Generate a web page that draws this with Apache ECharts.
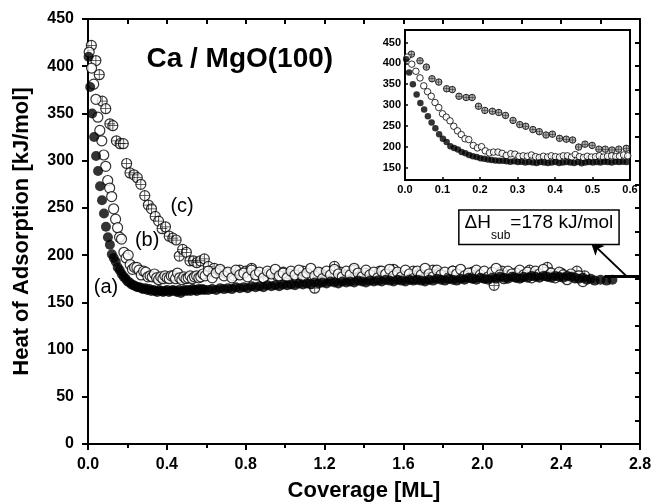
<!DOCTYPE html>
<html><head><meta charset="utf-8">
<script src="https://cdn.jsdelivr.net/npm/echarts@6/dist/echarts.min.js"></script>
<style>html,body{margin:0;padding:0;background:#fff}#c{width:653px;height:504px}</style>
</head><body><div id="c"></div>
<script>
// ---- data: [coverage ML, heat of adsorption kJ/mol] ----
const seriesA = [ // (a) filled circles
[0.003,410],[0.011,378],[0.021,350],[0.031,325],[0.041,305],[0.051,289],[0.061,273],[0.071,258],[0.081,244],[0.091,230],
[0.101,219],[0.111,211],[0.121,201],[0.131,197],[0.141,193],[0.151,187],[0.161,184],[0.171,180],[0.181,177],[0.191,175],
[0.201,172],[0.211,171],[0.221,169],[0.231,168],[0.241,167],[0.251,166],[0.261,166],[0.271,165],[0.281,164],[0.291,165],
[0.301,163],[0.311,164],[0.321,162],[0.331,163],[0.341,162],[0.351,161],[0.361,163],[0.371,162],[0.381,161],[0.391,162],
[0.401,163],[0.411,161],[0.421,162],[0.431,163],[0.441,162],[0.451,161],[0.461,163],[0.471,160],[0.481,162],[0.491,163],
[0.501,162],[0.511,163],[0.521,162],[0.531,164],[0.541,163],[0.551,162],[0.561,164],[0.571,163],[0.581,164],[0.591,163],
[0.61,163],[0.63,164],[0.65,163],[0.67,165],[0.69,164],[0.71,165],[0.73,164],[0.75,166],[0.77,165],[0.79,166],
[0.81,165],[0.83,167],[0.85,166],[0.87,167],[0.89,166],[0.91,168],[0.93,167],[0.95,168],[0.97,167],[0.99,169],
[1.01,168],[1.03,169],[1.05,168],[1.07,170],[1.09,169],[1.11,170],[1.13,169],[1.15,171],[1.17,170],[1.19,171],
[1.21,170],[1.23,172],[1.25,171],[1.27,170],[1.29,172],[1.31,171],[1.33,172],[1.35,171],[1.37,173],[1.39,172],
[1.41,171],[1.43,173],[1.45,172],[1.47,173],[1.49,172],[1.51,174],[1.53,173],[1.55,172],[1.57,174],[1.59,173],
[1.61,172],[1.63,174],[1.65,173],[1.67,174],[1.69,173],[1.71,172],[1.73,174],[1.75,173],[1.77,175],[1.79,174],
[1.81,173],[1.83,175],[1.85,174],[1.87,173],[1.89,175],[1.91,174],[1.93,176],[1.95,175],[1.97,174],[1.99,176],
[2.01,175],[2.03,174],[2.05,176],[2.07,175],[2.09,177],[2.11,176],[2.13,175],[2.15,177],[2.17,176],[2.19,175],
[2.21,177],[2.23,176],[2.25,178],[2.27,177],[2.29,176],[2.31,178],[2.33,177],[2.35,176],[2.37,178],[2.39,177],
[2.41,176],[2.43,178],[2.45,177],[2.47,176],[2.49,175],[2.51,176],[2.53,174],[2.55,175],[2.57,173],[2.60,174],
[2.63,173],[2.66,174]
];
const seriesB = [ // (b) open circles
[0.006,415],[0.018,398],[0.029,381],[0.040,365],[0.050,346],[0.060,332],[0.070,321],[0.080,306],[0.090,294],[0.100,279],
[0.110,271],[0.120,262],[0.130,249],[0.140,238],[0.150,229],[0.160,219],[0.170,217],[0.182,203],[0.193,197],[0.204,200],
[0.214,190],[0.225,185],[0.236,187],[0.248,187],[0.259,184],[0.270,179],[0.282,183],[0.293,182],[0.304,177],[0.315,178],
[0.326,177],[0.337,180],[0.348,176],[0.358,174],[0.369,177],[0.380,175],[0.390,178],[0.401,176],[0.412,175],[0.422,178],
[0.433,178],[0.444,175],[0.454,181],[0.465,176],[0.476,174],[0.486,177],[0.497,175],[0.508,176],[0.518,178],[0.529,175],
[0.540,177],[0.551,178],[0.562,176],[0.572,177],[0.583,180],[0.594,178],
[0.61,183],[0.63,176],[0.65,181],[0.67,185],[0.69,178],[0.71,182],[0.73,176],[0.75,184],[0.77,179],[0.79,181],
[0.81,177],[0.83,184],[0.85,179],[0.87,182],[0.89,176],[0.91,183],[0.93,180],[0.95,185],[0.97,178],[0.99,181],
[1.01,176],[1.03,183],[1.05,179],[1.07,184],[1.09,177],[1.11,181],[1.13,186],[1.15,178],[1.17,182],[1.19,175],
[1.21,183],[1.23,179],[1.25,185],[1.27,180],[1.29,177],[1.31,183],[1.33,179],[1.35,186],[1.37,181],[1.39,177],
[1.41,184],[1.43,179],[1.45,182],[1.47,176],[1.49,183],[1.51,180],[1.53,185],[1.55,178],[1.57,182],[1.59,177],
[1.61,184],[1.63,180],[1.65,175],[1.67,183],[1.69,179],[1.71,186],[1.73,180],[1.75,177],[1.77,184],[1.79,179],
[1.81,182],[1.83,176],[1.85,183],[1.87,180],[1.89,185],[1.91,178],[1.93,181],[1.95,176],[1.97,184],[1.99,179],
[2.01,183],[2.03,177],[2.05,182],[2.07,186],[2.09,179],[2.11,175],[2.13,183],[2.15,180],[2.17,177],[2.19,184],
[2.21,179],[2.23,182],[2.25,176],[2.27,183],[2.29,180],[2.31,185],[2.33,178],[2.35,181],[2.37,176],[2.39,182],
[2.41,179],[2.43,174],[2.45,180],[2.47,176],[2.49,178],[2.51,172]
];
const seriesC = [ // (c) crossed circles
[0.017,422],[0.040,406],[0.057,391],[0.072,363],[0.090,355],[0.111,339],[0.126,337],[0.144,321],[0.163,318],[0.179,318],
[0.196,297],[0.213,287],[0.233,285],[0.250,282],[0.268,275],[0.288,263],[0.306,253],[0.322,249],[0.341,241],[0.358,236],
[0.376,228],[0.393,230],[0.412,220],[0.430,218],[0.447,216],[0.463,199],[0.480,206],[0.499,203],[0.517,194],[0.534,194],
[0.552,192],[0.570,194],[0.590,196],
[0.61,188],[0.64,186],[0.67,183],[0.70,181],[0.74,178],[0.77,184],[0.80,183],[0.83,186],[0.86,179],[0.89,176],
[0.92,181],[0.96,178],[0.99,182],[1.02,180],[1.06,176],[1.09,183],[1.12,179],[1.15,165],[1.18,181],[1.21,177],
[1.25,188],[1.28,182],[1.31,179],[1.35,184],[1.38,178],[1.41,181],[1.45,176],[1.48,183],[1.51,180],[1.55,185],
[1.58,179],[1.61,177],[1.65,183],[1.68,180],[1.71,176],[1.75,184],[1.78,181],[1.81,178],[1.85,183],[1.88,179],
[1.91,177],[1.95,182],[1.98,180],[2.01,176],[2.06,168],[2.10,183],[2.13,179],[2.17,181],[2.20,177],[2.24,184],
[2.28,180],[2.33,187],[2.36,178],[2.40,181],[2.44,177],[2.48,183],[2.52,178]
];
// axes
const mainXTicks = {min:0, max:2.8, step:0.4};
const mainYTicks = {min:0, max:450, step:50};
const insetXTicks = {min:0, max:0.6, step:0.1};
const insetYLabels = [150,200,250,300,350,400,450];
const insetYRange = [120,480];
// annotations (data coordinates of main plot)
const titleText = 'Ca / MgO(100)';
const titlePos = [0.77, 407];
const curveNames = ['(a)','(b)','(c)'];
const curvePos = [[0.091,166],[0.30,216],[0.477,251]];
const dHsub = 178;
const subLineX = [2.62, 2.8];
const arrowFrom = [2.73, 178];
const arrowTo = [2.55, 214];
const boxAnchor = [2.69, 247];

const FONT = 'Liberation Sans, Arial, Helvetica, sans-serif';
const chart = echarts.init(document.getElementById('c'), null, {renderer:'canvas'});
const crossPath = 'path://M0,9.25 L20,9.25 L20,10.75 L0,10.75 Z M9.25,0 L10.75,0 L10.75,20 L9.25,20 Z';

function pts(grid, size, bw, crossFill) {
  const yi = grid === 0 ? 0 : 2;
  const xa = grid === 0 ? 0 : 2;
  return [
    {type:'scatter', xAxisIndex:xa, yAxisIndex:yi, data:seriesC, symbol:'circle', symbolSize:size,
     itemStyle:{color:crossFill, borderColor:'#000', borderWidth:bw}, z:2},
    {type:'scatter', xAxisIndex:xa, yAxisIndex:yi, data:seriesC, symbol:crossPath, symbolSize:size,
     itemStyle:{color:'#000'}, z:2},
    {type:'scatter', xAxisIndex:xa, yAxisIndex:yi, data:seriesB, symbol:'circle', symbolSize:size,
     itemStyle:{color:'#fff', borderColor:'#000', borderWidth:bw}, z:3},
    {type:'scatter', xAxisIndex:xa, yAxisIndex:yi, data:seriesA, symbol:'circle', symbolSize:size,
     itemStyle:{color:'#000', borderColor:'#000', borderWidth:0}, z:4}
  ];
}

const mainSeries = pts(0, 10, 1.2, '#fff');
mainSeries[3].markLine = {
  silent:true, animation:false, symbol:['none','none'],
  label:{show:false},
  data:[
    [{coord:[subLineX[0], dHsub], lineStyle:{width:3, color:'#000', type:'solid'}}, {coord:[subLineX[1], dHsub]}],
    [{coord:arrowFrom, symbol:'none', lineStyle:{width:2, color:'#000', type:'solid'}}, {coord:arrowTo, symbol:'arrow', symbolSize:[10,13]}]
  ]
};
const insetSeries = pts(1, 6.5, 1.0, '#9a9a9a');

const axisLineStyle = {color:'#000', width:2};
const option = {
  animation:false,
  backgroundColor:'#fff',
  textStyle:{fontFamily:FONT},
  grid:[
    {left:88, right:13, top:19, bottom:60, outerBoundsMode:'none', containLabel:false},
    {left:405, top:30, width:225, height:150, show:true, backgroundColor:'#fff', borderColor:'#000', borderWidth:2, z:5, outerBoundsMode:'none', containLabel:false}
  ],
  xAxis:[
    {gridIndex:0, type:'value', position:'bottom', min:mainXTicks.min, max:mainXTicks.max, interval:mainXTicks.step,
     axisLine:{onZero:false, lineStyle:axisLineStyle}, axisTick:{inside:false, length:6, lineStyle:{width:2, color:'#000'}},
     minorTick:{show:true, splitNumber:2, length:4, lineStyle:{width:2, color:'#000'}},
     splitLine:{show:false},
     axisLabel:{margin:13, fontSize:16, fontWeight:'bold', color:'#000', formatter:v=>v.toFixed(1), showMinLabel:true, showMaxLabel:true},
     name:'Coverage [ML]', nameLocation:'middle', nameGap:36, nameTextStyle:{fontSize:22, fontWeight:'bold', color:'#000'}},
    {gridIndex:0, type:'value', position:'top', min:mainXTicks.min, max:mainXTicks.max, interval:mainXTicks.step/2,
     axisLine:{onZero:false, lineStyle:axisLineStyle}, axisTick:{inside:true, length:5, lineStyle:{width:2, color:'#000'}},
     splitLine:{show:false}, axisLabel:{show:false}},
    {gridIndex:1, type:'value', position:'bottom', min:insetXTicks.min, max:insetXTicks.max, interval:insetXTicks.step,
     axisLine:{onZero:false, lineStyle:axisLineStyle}, axisTick:{inside:true, length:3, lineStyle:{width:1.5, color:'#000'}},
     splitLine:{show:false}, z:6,
     axisLabel:{margin:4, fontSize:11, fontWeight:'bold', color:'#000', formatter:v=>v.toFixed(1), showMinLabel:true, showMaxLabel:true}}
  ],
  yAxis:[
    {gridIndex:0, type:'value', position:'left', min:mainYTicks.min, max:mainYTicks.max, interval:mainYTicks.step,
     axisLine:{onZero:false, lineStyle:axisLineStyle}, axisTick:{inside:false, length:6, lineStyle:{width:2, color:'#000'}},
     splitLine:{show:false},
     axisLabel:{margin:14, fontSize:16, fontWeight:'bold', color:'#000', showMinLabel:true, showMaxLabel:true},
     name:'Heat of Adsorption [kJ/mol]', nameLocation:'middle', nameGap:55, nameTextStyle:{fontSize:22, fontWeight:'bold', color:'#000'}},
    {gridIndex:0, type:'value', position:'right', min:mainYTicks.min, max:mainYTicks.max, interval:mainYTicks.step/2,
     axisLine:{onZero:false, lineStyle:axisLineStyle}, axisTick:{inside:true, length:5, lineStyle:{width:2, color:'#000'}},
     splitLine:{show:false}, axisLabel:{show:false}},
    {gridIndex:1, type:'value', position:'left', min:insetYRange[0], max:insetYRange[1],
     axisLine:{onZero:false, lineStyle:axisLineStyle}, splitLine:{show:false}, z:6,
     axisTick:{inside:true, length:3, customValues:insetYLabels, lineStyle:{width:1.5, color:'#000'}},
     axisLabel:{margin:4, fontSize:11, fontWeight:'bold', color:'#000', customValues:insetYLabels}}
  ],
  series: mainSeries.concat(insetSeries.map(s => Object.assign(s, {z:(s.z||2)+6})))
};
chart.setOption(option);

const px = p => chart.convertToPixel({xAxisIndex:0, yAxisIndex:0}, p);
const tp = px(titlePos);
const graphics = [
  {type:'text', x:tp[0], y:tp[1], z:20, style:{text:titleText, font:'bold 28px '+FONT, fill:'#000', align:'center', verticalAlign:'middle'}}
];
curveNames.forEach((n,i) => {
  const p = px(curvePos[i]);
  graphics.push({type:'text', x:p[0], y:p[1], z:20, style:{text:n, font:'20px '+FONT, fill:'#000', align:'center', verticalAlign:'middle'}});
});
const bp = px(boxAnchor);
graphics.push({type:'text', x:bp[0], y:bp[1], z:20, style:{
  text:'{n|ΔH}{s|sub}{n|=' + dHsub + ' kJ/mol}', align:'right', verticalAlign:'top',
  fill:'#000', backgroundColor:'#fff', borderColor:'#000', borderWidth:1.5, padding:[3,5,2,5],
  rich:{
    n:{font:'19px '+FONT, fill:'#000', lineHeight:22, verticalAlign:'top'},
    s:{font:'12px '+FONT, fill:'#000', lineHeight:28, verticalAlign:'bottom'}
  }
}});
chart.setOption({graphic:graphics});
</script>
</body></html>
